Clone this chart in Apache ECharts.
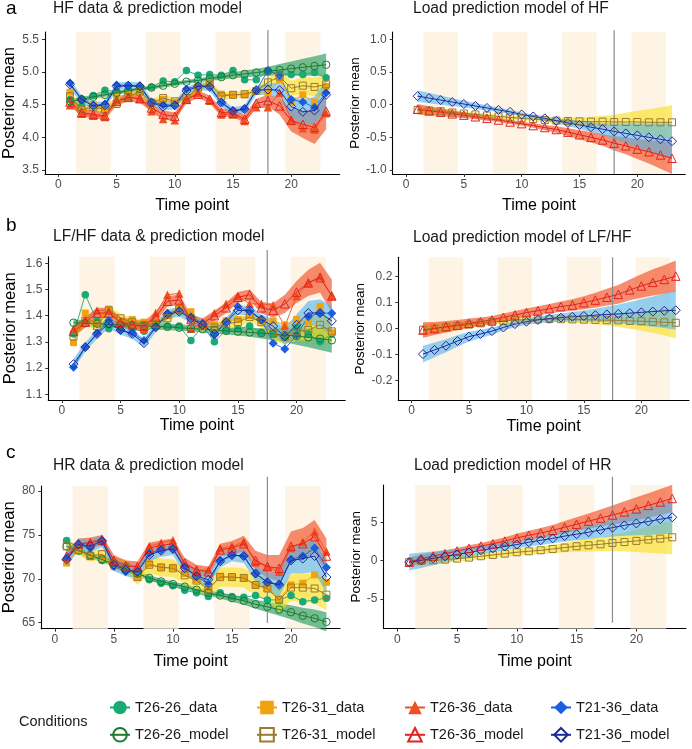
<!DOCTYPE html>
<html><head><meta charset="utf-8">
<script src="https://cdn.jsdelivr.net/npm/echarts@6/dist/echarts.min.js"></script>
<style>html,body{margin:0;padding:0;background:#fff}#c{width:692px;height:749px}</style>
</head><body><div id="c"></div><script>
// ---------------- data ----------------
const timePoints = [1,2,3,4,5,6,7,8,9,10,11,12,13,14,15,16,17,18,19,20,21,22,23];
const loadBands = [[1.5,4.5],[7.5,10.5],[13.5,16.5],[19.5,22.5]];
const xTicks = [0,5,10,15,20];
const conditions = ['T26-26','T26-31','T26-36','T21-36'];

// Panel a: HF data & prediction model
const A_d2626 = [4.58,4.48,4.64,4.72,4.70,4.71,4.76,4.77,4.86,4.85,5.02,4.95,4.96,4.95,5.02,4.88,4.88,5.02,4.97,4.96,4.96,4.99,4.91];
const A_m2626 = [4.55,4.58,4.62,4.65,4.68,4.71,4.74,4.76,4.79,4.82,4.85,4.87,4.90,4.92,4.95,4.97,4.99,5.01,5.03,5.05,5.07,5.09,5.11];
const A_d2631 = [4.69,4.42,4.50,4.44,4.62,4.66,4.70,4.47,4.58,4.53,4.57,4.72,4.81,4.66,4.65,4.65,4.70,4.69,4.88,4.55,4.65,4.54,4.78];
const A_m2631 = [4.63,4.42,4.46,4.43,4.51,4.62,4.70,4.53,4.60,4.55,4.60,4.76,4.82,4.63,4.65,4.66,4.71,4.84,4.93,4.75,4.79,4.77,4.81];
const A_d2636 = [4.49,4.36,4.33,4.31,4.57,4.62,4.59,4.40,4.28,4.26,4.58,4.68,4.56,4.35,4.35,4.25,4.46,4.46,4.68,4.27,4.14,4.12,4.37];
const A_m2636 = [4.54,4.38,4.35,4.33,4.55,4.61,4.59,4.45,4.35,4.32,4.58,4.66,4.58,4.38,4.37,4.28,4.52,4.56,4.48,4.26,4.20,4.15,4.40];
const A_d2136 = [4.83,4.58,4.49,4.51,4.80,4.79,4.79,4.54,4.50,4.49,4.74,4.79,4.78,4.54,4.41,4.44,4.72,5.02,4.94,4.58,4.54,4.46,4.68];
const A_m2136 = [4.81,4.58,4.48,4.49,4.78,4.79,4.78,4.53,4.47,4.49,4.71,4.78,4.77,4.53,4.40,4.43,4.72,4.73,4.72,4.47,4.39,4.41,4.65];
const A_hw2626 = [0.04,0.035,0.03,0.03,0.03,0.03,0.03,0.03,0.03,0.03,0.03,0.03,0.035,0.04,0.045,0.05,0.06,0.07,0.09,0.11,0.13,0.15,0.17];
const A_hw2631 = [0.06,0.05,0.05,0.05,0.05,0.05,0.05,0.05,0.05,0.05,0.05,0.05,0.05,0.05,0.05,0.05,0.06,0.07,0.09,0.11,0.13,0.14,0.15];
const A_hw2636 = [0.06,0.06,0.06,0.06,0.06,0.06,0.06,0.06,0.06,0.06,0.06,0.06,0.06,0.06,0.06,0.06,0.07,0.09,0.13,0.17,0.21,0.25,0.28];
const A_hw2136 = [0.07,0.06,0.06,0.06,0.06,0.06,0.06,0.06,0.06,0.06,0.06,0.06,0.06,0.06,0.06,0.06,0.07,0.09,0.12,0.16,0.19,0.21,0.23];

// Panel b: LF/HF data & prediction model
const B_d2626 = [1.33,1.48,1.38,1.35,1.37,1.35,1.34,1.36,1.36,1.36,1.305,1.36,1.30,1.345,1.35,1.36,1.335,1.33,1.32,1.355,1.33,1.30,1.33];
const B_m2626 = [1.373,1.371,1.369,1.367,1.365,1.363,1.361,1.359,1.357,1.354,1.351,1.348,1.345,1.342,1.339,1.336,1.333,1.330,1.326,1.322,1.317,1.312,1.306];
const B_d2631 = [1.297,1.41,1.37,1.425,1.38,1.385,1.375,1.37,1.40,1.435,1.415,1.36,1.365,1.38,1.385,1.40,1.38,1.38,1.365,1.385,1.375,1.435,1.335];
const B_m2631 = [1.32,1.38,1.36,1.42,1.39,1.375,1.365,1.37,1.39,1.425,1.39,1.36,1.355,1.37,1.375,1.395,1.375,1.33,1.32,1.34,1.345,1.365,1.34];
const B_d2636 = [1.35,1.385,1.42,1.42,1.375,1.37,1.35,1.41,1.48,1.485,1.35,1.375,1.41,1.445,1.475,1.445,1.445,1.44,1.36,1.475,1.525,1.55,1.475];
const B_m2636 = [1.34,1.375,1.41,1.41,1.375,1.365,1.36,1.395,1.455,1.46,1.385,1.37,1.40,1.43,1.47,1.48,1.43,1.42,1.445,1.49,1.525,1.545,1.475];
const B_d2136 = [1.203,1.28,1.333,1.381,1.345,1.335,1.305,1.358,1.409,1.42,1.396,1.371,1.326,1.377,1.435,1.416,1.384,1.295,1.273,1.326,1.396,1.41,1.409];
const B_m2136 = [1.215,1.28,1.33,1.37,1.345,1.33,1.295,1.355,1.405,1.415,1.39,1.365,1.33,1.375,1.42,1.42,1.385,1.36,1.32,1.365,1.41,1.41,1.38];
const B_hw2626 = [0.012,0.012,0.012,0.012,0.012,0.012,0.012,0.012,0.012,0.012,0.012,0.012,0.013,0.014,0.015,0.017,0.02,0.024,0.028,0.033,0.038,0.043,0.048];
const B_hw2631 = [0.02,0.018,0.018,0.018,0.018,0.018,0.018,0.018,0.018,0.018,0.018,0.018,0.018,0.018,0.018,0.018,0.02,0.025,0.03,0.035,0.04,0.045,0.05];
const B_hw2636 = [0.02,0.02,0.02,0.02,0.02,0.02,0.02,0.02,0.02,0.02,0.02,0.02,0.02,0.02,0.02,0.02,0.022,0.027,0.035,0.042,0.05,0.057,0.063];
const B_hw2136 = [0.02,0.018,0.018,0.018,0.018,0.018,0.018,0.018,0.018,0.018,0.018,0.018,0.018,0.018,0.018,0.018,0.02,0.026,0.033,0.04,0.046,0.052,0.058];

// Panel c: HR data & prediction model
const C_d2626 = [74.35,73.6,72.6,72.1,71.5,71.0,70.7,69.9,69.5,69.2,68.7,68.4,68.0,68.4,68.0,67.9,68.1,67.6,67.6,68.1,67.4,67.6,67.8];
const C_m2626 = [73.7,73.2,72.7,72.2,71.7,71.2,70.6,70.1,69.7,69.4,69.1,68.75,68.4,68.1,67.8,67.5,67.1,66.8,66.5,66.2,65.8,65.5,65.1];
const C_d2631 = [71.8,73.3,72.5,72.35,71.4,71.0,70.2,71.7,71.3,71.3,70.6,69.9,68.8,70.3,70.2,70.1,69.3,68.9,67.7,69.3,69.5,70.45,69.6];
const C_m2631 = [73.7,73.3,72.6,72.8,71.7,71.4,70.2,71.6,71.3,71.2,70.4,69.8,68.8,70.2,70.2,70.1,69.3,68.9,67.6,69.0,69.0,68.9,68.2];
const C_d2636 = [72.5,73.9,74.2,74.6,72.1,71.4,71.4,73.7,74.1,74.4,71.6,71.0,71.0,73.5,73.7,74.2,71.85,71.4,70.8,73.5,74.2,75.4,73.1];
const C_m2636 = [72.6,74.0,74.1,74.4,72.1,71.5,71.4,73.5,73.8,74.0,71.8,71.0,70.8,73.3,73.5,74.0,72.1,71.4,71.2,73.7,74.0,74.8,72.6];
const C_d2136 = [72.35,73.9,73.5,74.4,71.4,70.8,70.8,72.9,73.3,73.4,71.4,70.3,69.4,72.1,72.7,72.6,70.6,69.6,69.4,72.2,72.6,73.5,71.3];
const C_m2136 = [72.2,73.9,73.75,74.3,71.6,71.0,70.8,72.7,73.2,73.4,71.2,70.3,69.9,72.0,72.7,72.6,70.6,69.6,69.3,72.1,72.3,72.6,70.2];
const C_hw2626 = [0.45,0.4,0.35,0.3,0.3,0.3,0.3,0.3,0.3,0.3,0.3,0.3,0.3,0.35,0.4,0.45,0.5,0.6,0.7,0.8,0.9,1.0,1.1];
const C_hw2631 = [0.6,0.6,0.6,0.6,0.7,0.8,0.9,1.0,1.0,1.0,1.0,1.0,1.0,1.1,1.1,1.1,1.2,1.3,1.4,1.5,1.6,1.7,1.8];
const C_hw2636 = [0.6,0.6,0.6,0.6,0.6,0.6,0.6,0.6,0.6,0.6,0.6,0.6,0.6,0.7,0.8,0.9,1.1,1.3,1.5,1.7,1.8,1.9,2.0];
const C_hw2136 = [0.8,0.7,0.7,0.7,0.7,0.7,0.7,0.7,0.7,0.7,0.7,0.7,0.7,0.7,0.7,0.8,0.9,1.1,1.3,1.5,1.7,1.8,1.9];

// Panel a-right: Load prediction model of HF
const D_m2631 = [-0.08,-0.09,-0.10,-0.12,-0.135,-0.15,-0.165,-0.18,-0.195,-0.21,-0.22,-0.235,-0.245,-0.25,-0.255,-0.26,-0.26,-0.265,-0.265,-0.265,-0.27,-0.27,-0.27];
const D_m2636 = [-0.07,-0.095,-0.115,-0.14,-0.16,-0.185,-0.21,-0.235,-0.265,-0.29,-0.32,-0.35,-0.38,-0.42,-0.46,-0.50,-0.54,-0.59,-0.63,-0.68,-0.72,-0.77,-0.82];
const D_m2136 = [0.13,0.10,0.07,0.04,0.01,-0.02,-0.05,-0.08,-0.11,-0.15,-0.18,-0.21,-0.245,-0.28,-0.31,-0.345,-0.375,-0.41,-0.44,-0.47,-0.50,-0.53,-0.56];
const D_hw2631 = [0.05,0.045,0.04,0.035,0.03,0.03,0.03,0.03,0.03,0.03,0.03,0.035,0.04,0.05,0.06,0.075,0.09,0.11,0.14,0.17,0.2,0.23,0.26];
const D_hw2636 = [0.08,0.07,0.06,0.05,0.045,0.04,0.035,0.03,0.03,0.03,0.035,0.04,0.05,0.06,0.07,0.08,0.09,0.11,0.13,0.15,0.18,0.21,0.24];
const D_hw2136 = [0.09,0.08,0.07,0.06,0.05,0.045,0.04,0.035,0.03,0.03,0.03,0.035,0.04,0.05,0.06,0.075,0.09,0.12,0.15,0.18,0.21,0.24,0.27];

// Panel b-right: Load prediction model of LF/HF
const E_m2631 = [-0.005,0.0,0.005,0.01,0.015,0.02,0.025,0.029,0.032,0.034,0.035,0.036,0.036,0.035,0.034,0.033,0.032,0.031,0.029,0.028,0.026,0.024,0.022];
const E_m2636 = [-0.006,0.0,0.007,0.013,0.02,0.026,0.033,0.043,0.052,0.061,0.068,0.076,0.084,0.09,0.099,0.109,0.12,0.131,0.148,0.163,0.177,0.188,0.201];
const E_m2136 = [-0.098,-0.082,-0.066,-0.048,-0.031,-0.021,-0.01,0.004,0.017,0.026,0.033,0.038,0.042,0.045,0.048,0.051,0.054,0.056,0.059,0.062,0.065,0.068,0.070];
const E_hw2631 = [0.022,0.02,0.018,0.015,0.013,0.011,0.01,0.01,0.01,0.01,0.01,0.01,0.011,0.012,0.014,0.017,0.02,0.025,0.03,0.036,0.042,0.05,0.06];
const E_hw2636 = [0.03,0.025,0.022,0.02,0.018,0.016,0.015,0.015,0.015,0.016,0.017,0.018,0.02,0.022,0.025,0.028,0.032,0.036,0.04,0.045,0.05,0.055,0.06];
const E_hw2136 = [0.032,0.028,0.025,0.022,0.019,0.016,0.014,0.012,0.012,0.012,0.013,0.014,0.016,0.018,0.021,0.025,0.03,0.036,0.043,0.05,0.058,0.066,0.075];

// Panel c-right: Load prediction model of HR
const F_m2631 = [-0.17,-0.04,0.04,0.13,0.26,0.39,0.57,0.74,0.91,1.09,1.22,1.35,1.52,1.7,1.87,2.0,2.13,2.3,2.43,2.57,2.74,2.87,3.04];
const F_m2636 = [-0.2,0.25,0.6,0.9,1.25,1.6,1.9,2.2,2.55,2.95,3.3,3.6,3.95,4.35,4.75,5.15,5.55,5.95,6.35,6.75,7.2,7.65,8.1];
const F_m2136 = [-0.2,0.05,0.3,0.55,0.8,1.05,1.35,1.6,1.85,2.1,2.4,2.65,2.9,3.2,3.45,3.7,4.0,4.3,4.6,4.85,5.1,5.4,5.65];
const F_hw2631 = [0.6,0.55,0.5,0.45,0.4,0.4,0.4,0.4,0.4,0.4,0.45,0.5,0.55,0.6,0.7,0.8,0.9,1.05,1.25,1.45,1.7,1.95,2.2];
const F_hw2636 = [0.6,0.55,0.5,0.45,0.4,0.4,0.4,0.45,0.5,0.55,0.6,0.65,0.7,0.8,0.9,1.0,1.1,1.25,1.4,1.5,1.6,1.7,1.8];
const F_hw2136 = [1.1,1.0,0.9,0.8,0.7,0.6,0.55,0.5,0.5,0.5,0.55,0.6,0.65,0.7,0.8,0.9,1.0,1.15,1.35,1.55,1.75,1.95,2.15];

// ---------------- styles & layout ----------------
const FONT = 'Liberation Sans, Arial, Helvetica, sans-serif';
const condStyle = {
  'T26-26': {dataColor:'#19aa76', modelColor:'#1f7a2c', band:'rgba(20,150,85,0.6)',  symbol:'circle',   size:7.5},
  'T26-31': {dataColor:'#f0a30a', modelColor:'#9b7a2e', band:'rgba(248,222,20,0.6)', symbol:'rect',     size:7},
  'T26-36': {dataColor:'#ef5020', modelColor:'#e2231f', band:'rgba(240,65,20,0.6)',  symbol:'triangle', size:8.5},
  'T21-36': {dataColor:'#1a5fe0', modelColor:'#1f2a9a', band:'rgba(80,180,235,0.6)', symbol:'diamond',  size:9}
};

const panels = [
  {title:'HF data & prediction model', tx:53, ty:1,
   grid:{left:43.5, top:32, width:296, height:142}, yMin:3.44, yMax:5.61, yTicks:[3.5,4,4.5,5,5.5], dec:1,
   vx:18, vy:[3.44,5.64], xGap:24, yGap:27, yNameSize:16.5,
   data:{'T26-26':A_d2626,'T26-31':A_d2631,'T26-36':A_d2636,'T21-36':A_d2136},
   model:{'T26-26':A_m2626,'T26-31':A_m2631,'T26-36':A_m2636,'T21-36':A_m2136},
   hw:{'T26-26':A_hw2626,'T26-31':A_hw2631,'T26-36':A_hw2636,'T21-36':A_hw2136}},
  {title:'Load prediction model of HF', tx:413, ty:1,
   grid:{left:392.7, top:32, width:292.6, height:142}, yMin:-1.061, yMax:1.112, yTicks:[-1,-0.5,0,0.5,1], dec:1,
   vx:18, vy:[-1.061,1.14], xGap:24, yGap:29, yNameSize:13.5,
   data:{},
   model:{'T26-31':D_m2631,'T26-36':D_m2636,'T21-36':D_m2136},
   hw:{'T26-31':D_hw2631,'T26-36':D_hw2636,'T21-36':D_hw2136}},
  {title:'LF/HF data & prediction model', tx:53, ty:228.5,
   grid:{left:48.3, top:256.7, width:297, height:143.3}, yMin:1.078, yMax:1.625, yTicks:[1.1,1.2,1.3,1.4,1.5,1.6], dec:1,
   vx:17.5, vy:[1.078,1.651], xGap:18, yGap:29, yNameSize:16.5,
   data:{'T26-26':B_d2626,'T26-31':B_d2631,'T26-36':B_d2636,'T21-36':B_d2136},
   model:{'T26-26':B_m2626,'T26-31':B_m2631,'T26-36':B_m2636,'T21-36':B_m2136},
   hw:{'T26-26':B_hw2626,'T26-31':B_hw2631,'T26-36':B_hw2636,'T21-36':B_hw2136}},
  {title:'Load prediction model of LF/HF', tx:413, ty:229.5,
   grid:{left:398.3, top:257.3, width:290.7, height:142.7}, yMin:-0.274, yMax:0.273, yTicks:[-0.2,-0.1,0,0.1,0.2], dec:1,
   vx:17.5, vy:[-0.274,0.273], xGap:19, yGap:30, yNameSize:13.5,
   data:{},
   model:{'T26-31':E_m2631,'T26-36':E_m2636,'T21-36':E_m2136},
   hw:{'T26-31':E_hw2631,'T26-36':E_hw2636,'T21-36':E_hw2136}},
  {title:'HR data & prediction model', tx:53, ty:457.5,
   grid:{left:40, top:486, width:300, height:142.7}, yMin:64.32, yMax:80.57, yTicks:[65,70,75,80], dec:0,
   vx:18, vy:[64.97,81.63], xGap:25, yGap:22, yNameSize:16.5,
   data:{'T26-26':C_d2626,'T26-31':C_d2631,'T26-36':C_d2636,'T21-36':C_d2136},
   model:{'T26-26':C_m2626,'T26-31':C_m2631,'T26-36':C_m2636,'T21-36':C_m2136},
   hw:{'T26-26':C_hw2626,'T26-31':C_hw2631,'T26-36':C_hw2636,'T21-36':C_hw2136}},
  {title:'Load prediction model of HR', tx:414, ty:457.5,
   grid:{left:383.5, top:485, width:302.5, height:143.5}, yMin:-8.85, yMax:9.86, yTicks:[-5,0,5], dec:0,
   vx:18, vy:[-8.09,10.94], xGap:25, yGap:19.5, yNameSize:13.5,
   data:{},
   model:{'T26-31':F_m2631,'T26-36':F_m2636,'T21-36':F_m2136},
   hw:{'T26-31':F_hw2631,'T26-36':F_hw2636,'T21-36':F_hw2136}}
];

const letters = [{t:'a', top:-1},{t:'b', top:216},{t:'c', top:443}];
const legendPos = [
  {name:'T26-26_data',  left:109, top:700}, {name:'T26-31_data',  left:256, top:700},
  {name:'T26-36_data',  left:404, top:700}, {name:'T21-36_data',  left:550, top:700},
  {name:'T26-26_model', left:109, top:727}, {name:'T26-31_model', left:256, top:727},
  {name:'T26-36_model', left:404, top:727}, {name:'T21-36_model', left:550, top:727}
];

// ---------------- build option ----------------
const grids = [], xAxes = [], yAxes = [], series = [], titles = [];

letters.forEach(l => titles.push({text:l.t, left:6, top:l.top, padding:0,
  textStyle:{fontSize:19, fontWeight:'normal', color:'#000', fontFamily:FONT}}));
titles.push({text:'Conditions', left:19, top:714, padding:0,
  textStyle:{fontSize:14.5, fontWeight:'normal', color:'#1a1a1a', fontFamily:FONT}});

panels.forEach((p, gi) => {
  titles.push({text:p.title, left:p.tx, top:p.ty, padding:0,
    textStyle:{fontSize:15.6, fontWeight:'normal', color:'#1a1a1a', fontFamily:FONT}});
  grids.push(Object.assign({containLabel:false}, p.grid));
  xAxes.push({gridIndex:gi, type:'value', min:-1.15, max:24.15,
    splitLine:{show:false},
    axisLine:{onZero:false, lineStyle:{color:'#000', width:1.1}},
    axisTick:{show:true, length:3, customValues:xTicks, lineStyle:{color:'#333'}},
    axisLabel:{customValues:xTicks, fontSize:12, color:'#4d4d4d', margin:5, fontFamily:FONT},
    name:'Time point', nameLocation:'middle', nameGap:p.xGap,
    nameTextStyle:{fontSize:16, color:'#000', fontFamily:FONT}});
  yAxes.push({gridIndex:gi, type:'value', min:p.yMin, max:p.yMax,
    splitLine:{show:false},
    axisLine:{onZero:false, lineStyle:{color:'#000', width:1.1}},
    axisTick:{show:true, length:3, customValues:p.yTicks, lineStyle:{color:'#333'}},
    axisLabel:{customValues:p.yTicks, fontSize:12, color:'#4d4d4d', margin:6, fontFamily:FONT,
      formatter: v => Number(v).toFixed(p.dec)},
    name:'Posterior mean', nameLocation:'middle', nameGap:p.yGap, nameRotate:90,
    nameTextStyle:{fontSize:p.yNameSize, color:'#000', fontFamily:FONT}});

  // background load bands + vertical line
  series.push({type:'line', name:'_vline'+gi, xAxisIndex:gi, yAxisIndex:gi, z:2, silent:true, clip:false,
    symbol:'none', lineStyle:{color:'#8c8c8c', width:1.2},
    data: p.vy.map(v => [p.vx, v]),
    markArea:{silent:true, label:{show:false}, itemStyle:{color:'#fef4e6'},
      data: loadBands.map(b => [{xAxis:b[0]},{xAxis:b[1]}])}});

  // ribbons
  conditions.forEach(c => {
    if (!p.model[c]) return;
    const mean = p.model[c], hw = p.hw[c], col = condStyle[c].band;
    series.push({type:'custom', name:'_rib'+gi+c, xAxisIndex:gi, yAxisIndex:gi, z:1, silent:true,
      data:[[timePoints[0], mean[0]]],
      renderItem:(params, api) => {
        const pts = [];
        for (let i = 0; i < timePoints.length; i++) pts.push(api.coord([timePoints[i], mean[i] + hw[i]]));
        for (let i = timePoints.length - 1; i >= 0; i--) pts.push(api.coord([timePoints[i], mean[i] - hw[i]]));
        return {type:'polygon', shape:{points:pts}, style:{fill:col}};
      }});
  });

  // data series
  conditions.forEach(c => {
    if (!p.data[c]) return;
    const s = condStyle[c];
    series.push({type:'line', name:c+'_data', xAxisIndex:gi, yAxisIndex:gi, z:3,
      data: timePoints.map((t, i) => [t, p.data[c][i]]),
      symbol:s.symbol, symbolSize:s.size, showAllSymbol:true,
      lineStyle:{color:s.dataColor, width:0.9},
      itemStyle:{color:s.dataColor, borderColor:s.dataColor, borderWidth:0}});
  });
  // model series
  conditions.forEach(c => {
    if (!p.model[c]) return;
    const s = condStyle[c];
    series.push({type:'line', name:c+'_model', xAxisIndex:gi, yAxisIndex:gi, z:4,
      data: timePoints.map((t, i) => [t, p.model[c][i]]),
      symbol:s.symbol, symbolSize:s.size, showAllSymbol:true,
      lineStyle:{color:s.modelColor, width:1},
      itemStyle:{color:'rgba(255,255,255,0)', borderColor:s.modelColor, borderWidth:1}});
  });
});

const legends = legendPos.map(l => ({data:[l.name], left:l.left, top:l.top, padding:0,
  itemWidth:20, itemHeight:17, selectedMode:false,
  textStyle:{fontSize:14.5, color:'#1a1a1a', fontFamily:FONT}}));

const chart = echarts.init(document.getElementById('c'), null, {renderer:'canvas'});
chart.setOption({animation:false, backgroundColor:'#fff', title:titles, grid:grids,
  xAxis:xAxes, yAxis:yAxes, legend:legends, series:series, tooltip:{show:false}});
</script></body></html>
